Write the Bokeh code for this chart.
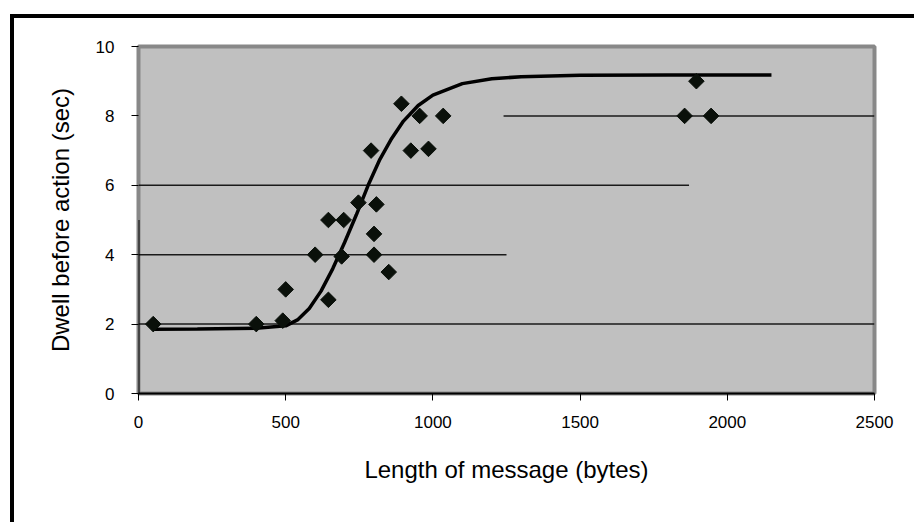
import math
from bokeh.plotting import figure
from bokeh.layouts import column
from bokeh.models import Range1d, FixedTicker
from bokeh.embed import file_html
from bokeh.resources import INLINE

# Observed data points (message length in bytes, dwell time in seconds)
msg_len = [50, 400, 490, 500, 600, 645, 645, 690, 697, 747, 808, 800, 800, 850,
           790, 925, 985, 893, 955, 1035, 1895, 1855, 1945]
dwell = [2.0, 2.0, 2.1, 3.0, 4.0, 2.7, 5.0, 3.95, 5.0, 5.5, 5.45, 4.6, 4.0, 3.5,
         7.0, 7.0, 7.05, 8.35, 8.0, 8.0, 9.0, 8.0, 8.0]

# Fitted curve
curve_x = [50, 200, 400, 500, 540, 580, 620, 660, 700, 740, 780, 820, 860, 900,
           950, 1000, 1100, 1200, 1300, 1500, 1800, 2150]
curve_y = [1.85, 1.86, 1.88, 1.95, 2.12, 2.45, 2.95, 3.6, 4.35, 5.15, 6.0, 6.75,
           7.35, 7.85, 8.3, 8.6, 8.93, 9.07, 9.13, 9.17, 9.18, 9.18]

# Horizontal reference lines (partial, as in the original)
grid_y = [2, 4, 6, 8]
grid_x0 = [0, 0, 0, 1240]
grid_x1 = [2500, 1250, 1870, 2500]

x_ticks = [0, 500, 1000, 1500, 2000, 2500]
y_ticks = [0, 2, 4, 6, 8, 10]

FONT = "Liberation Sans"

p = figure(width=900, height=504, output_backend="svg", toolbar_location=None,
           x_range=Range1d(0, 2500), y_range=Range1d(0, 10),
           min_border_left=124, min_border_right=40, min_border_top=28,
           min_border_bottom=129)

p.background_fill_color = "#c0c0c0"
p.border_fill_color = "white"
p.outline_line_color = "#888888"
p.outline_line_width = 4
p.xgrid.visible = False
p.ygrid.visible = False

p.segment(x0=grid_x0, y0=grid_y, x1=grid_x1, y1=grid_y, line_color="#1a1a1a",
          line_width=1.5)
p.segment(x0=[0], y0=[0], x1=[0], y1=[5], line_color="black", line_width=2)

p.line(curve_x, curve_y, line_color="black", line_width=3.5)
p.scatter(msg_len, dwell, marker="square", angle=math.pi / 4, size=11,
          fill_color="#0a100a", line_color="#0a100a")

# Axes
p.xaxis.ticker = FixedTicker(ticks=x_ticks)
p.yaxis.ticker = FixedTicker(ticks=y_ticks)
for ax in (p.xaxis, p.yaxis):
    ax.major_label_text_font = FONT
    ax.major_label_text_font_size = "17px"
    ax.major_label_text_color = "black"
    ax.axis_label_text_font = FONT
    ax.axis_label_text_font_size = "24px"
    ax.axis_label_text_font_style = "normal"
    ax.axis_label_text_color = "black"
    ax.major_tick_in = 0
    ax.major_tick_out = 7
    ax.major_tick_line_color = "black"
    ax.minor_tick_line_color = None

p.xaxis.axis_label = "Length of message (bytes)"
p.xaxis.axis_line_color = "black"
p.xaxis.axis_line_width = 2
p.xaxis.major_label_standoff = 15
p.xaxis.axis_label_standoff = 25

p.yaxis.axis_label = "Dwell before action (sec)"
p.yaxis.axis_line_color = None
p.yaxis.major_label_standoff = 17
p.yaxis.axis_label_standoff = 19

# outer black frame round the chart (its right and bottom edges lie outside the view)
page = column(p, styles={"margin-left": "10px", "margin-top": "14px",
                         "border-left": "4px solid black",
                         "border-top": "4px solid black"})

open("out.html", "w").write(file_html(page, INLINE))
